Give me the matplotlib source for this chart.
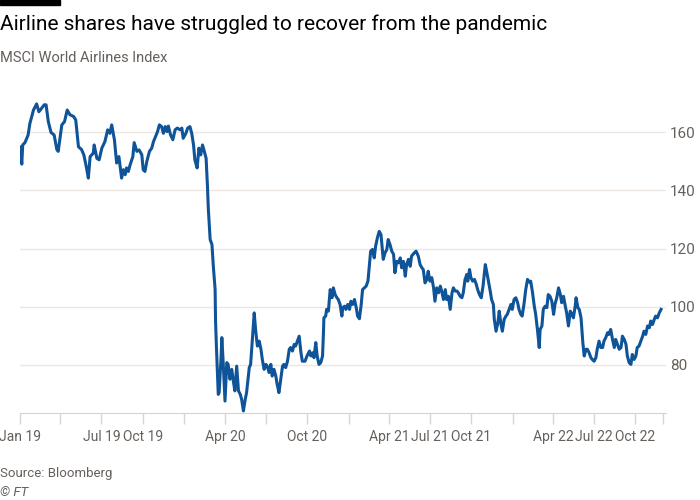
import pandas as pd
import matplotlib
matplotlib.use("Agg")
import matplotlib.pyplot as plt
from matplotlib.patches import Rectangle

plt.rcParams["font.family"] = ["Roboto", "DejaVu Sans"]

# MSCI World Airlines Index (days since 1 Jan 2019)
start_date = "2019-01-01"
day_offsets = [
    0, 4, 6, 11, 18, 22, 30, 37, 42, 48, 54, 58, 63, 69, 76, 82, 85, 93, 99,
    105, 111, 119, 124, 130, 137, 142, 148, 152, 156, 163, 165, 171, 176, 182,
    189, 195, 200, 204, 210, 215, 220, 226, 230, 234, 237, 241, 245, 251, 254,
    260, 265, 271, 274, 278, 282, 288, 293, 297, 300, 306, 310, 315, 319, 323,
    327, 330, 335, 340, 345, 350, 356, 360, 363,
    369, 373, 378, 382, 386, 389, 394, 398, 402, 406, 410, 414, 417, 419, 423,
    427, 430, 434, 435, 437, 441, 443, 447, 449, 452, 456, 460, 463, 467, 471,
    475, 478, 482, 486, 490, 493, 497, 501, 504, 510, 513, 517, 521, 524, 528,
    532, 536, 539, 543, 547, 550, 554, 558, 561, 565, 569, 572, 576, 580, 584,
    587, 591, 595, 599, 602, 606, 610, 613, 617, 621, 625, 628, 634, 639, 644,
    647, 651, 654, 658, 661, 665, 669, 673, 675, 676, 680, 682, 686, 690, 694,
    697, 701, 705, 708, 712, 716, 718, 722, 725, 729,
    733, 736, 740, 744, 748, 751, 755, 759, 762, 766, 770, 774, 777, 780, 784,
    788, 791, 795, 799, 803, 806, 808, 812, 816, 819, 823, 827, 831, 834, 838,
    842, 846, 849, 853, 857, 860, 864, 868, 871, 877, 881, 886, 890, 894, 897,
    901, 905, 908, 912, 916, 920, 923, 927, 931, 935, 938, 942, 946, 949, 953,
    957, 961, 964, 968, 972, 975, 979, 983, 986, 990, 994, 996, 1000, 1003,
    1007, 1011, 1015, 1018, 1022, 1026, 1030, 1033, 1035, 1038, 1042, 1046,
    1049, 1053, 1055, 1059, 1063, 1066, 1070, 1073, 1077, 1081, 1084, 1088,
    1092, 1095, 1099, 1103, 1107, 1110, 1114, 1117, 1121, 1125, 1129, 1133,
    1136, 1140, 1144, 1147, 1151, 1155, 1157, 1161, 1164, 1168, 1172, 1175,
    1179, 1183, 1187, 1190, 1194, 1198, 1202, 1205, 1209, 1213, 1216, 1220,
    1224, 1228, 1231, 1235, 1237, 1241, 1244, 1248, 1252, 1255, 1259, 1262,
    1266, 1270, 1273, 1277, 1281, 1284, 1288, 1292, 1296, 1299, 1303, 1307,
    1310, 1314, 1318, 1322, 1325, 1329, 1333, 1337, 1340, 1344, 1348, 1351,
    1355, 1359, 1362, 1366, 1370, 1373, 1377, 1381, 1385, 1388, 1392, 1396,
    1400, 1403, 1407, 1411, 1414, 1418, 1422, 1426,
]
index_values = [
    154.9, 149.0, 155.6, 156.4, 159.0, 163.0, 167.6, 169.7, 167.0, 168.2, 169.4,
    169.4, 163.6, 159.9, 159.0, 154.0, 153.4, 162.5, 163.6, 167.6, 166.0, 165.4,
    164.2, 155.0, 154.0, 152.2, 147.7, 144.2, 151.6, 152.8, 155.6, 151.0, 150.5,
    154.5, 156.8, 160.8, 159.6, 162.5, 157.4, 149.4, 151.6, 144.2, 147.1, 145.4,
    147.7, 146.5, 148.8, 151.6, 156.4, 153.4, 153.9, 152.2, 147.1, 146.5, 149.9,
    153.4, 154.5, 156.8, 157.9, 160.2, 162.5, 161.9, 159.6, 161.9, 160.2, 162.1,
    159.0, 157.4, 160.8, 161.4, 160.8, 161.4, 157.9,
    159.6, 161.4, 161.9, 159.6, 155.6, 150.5, 147.7, 154.5, 152.2, 155.6, 153.4,
    151.0, 141.4, 133.4, 123.1, 121.4, 114.0, 106.0, 95.0, 86.0, 69.9, 70.5,
    81.9, 89.4, 80.8, 67.6, 80.8, 80.2, 75.1, 78.5, 74.0, 71.1, 79.6, 71.1,
    69.9, 68.2, 64.2, 68.2, 70.5, 79.1, 80.2, 88.8, 97.9, 92.2, 86.5, 88.2,
    85.4, 81.9, 78.5, 80.2, 79.6, 77.4, 80.2, 76.2, 78.5, 76.2, 73.4, 70.5,
    75.1, 79.6, 80.2, 79.1, 81.3, 85.4, 86.0, 84.8, 87.1, 86.5, 88.2, 89.9,
    84.2, 81.3, 81.3, 83.3, 84.8, 83.1, 84.2, 82.5, 87.7, 83.1, 80.2, 80.8,
    83.1, 91.1, 96.2, 96.8, 99.1, 98.5, 105.9, 103.1, 106.5, 104.2, 103.1,
    102.5, 100.8, 96.8, 99.7, 100.2, 99.1, 100.8,
    99.1, 101.9, 100.8, 102.5, 99.7, 96.8, 95.9, 100.8, 105.9, 106.5, 107.1,
    108.8, 113.9, 119.1, 119.7, 116.8, 120.8, 123.7, 125.9, 124.8, 119.7, 116.3,
    118.5, 119.7, 123.1, 121.4, 119.1, 118.0, 111.7, 115.6, 115.1, 116.8, 113.4,
    115.6, 110.5, 114.5, 116.3, 113.9, 117.4, 118.5, 119.1, 117.4, 114.5, 113.4,
    112.8, 108.2, 109.4, 112.2, 108.8, 110.0, 106.5, 101.9, 106.5, 104.8, 107.1,
    105.4, 102.5, 105.9, 102.5, 103.6, 99.1, 104.8, 106.5, 105.4, 105.4, 104.8,
    103.6, 103.1, 104.8, 109.4, 111.1, 108.8, 112.8, 110.0, 108.8, 109.4, 107.7,
    105.9, 104.2, 103.1, 107.1, 111.7, 114.5, 112.2, 108.8, 105.4, 102.5, 100.8,
    95.7, 91.6, 94.5, 98.5, 93.9, 91.6, 95.7, 96.8, 97.4, 99.1, 100.8, 99.1,
    102.5, 103.1, 101.4, 99.1, 97.4, 96.8, 100.8, 105.9, 109.4, 108.5, 108.8,
    105.0, 100.2, 97.5, 92.2, 86.0, 92.2, 93.4, 99.1, 100.2, 99.7, 104.2,
    103.6, 101.9, 97.4, 100.8, 103.1, 106.5, 104.2, 101.4, 103.6, 100.2, 97.9,
    93.4, 98.5, 97.4, 96.2, 100.2, 103.1, 99.7, 99.1, 96.2, 87.7, 83.1, 85.4,
    85.4, 84.2, 82.5, 81.9, 81.3, 82.5, 85.4, 88.2, 86.0, 86.0, 88.2, 89.4,
    91.1, 90.5, 92.2, 88.8, 86.0, 88.8, 87.1, 85.4, 86.0, 89.9, 88.8, 87.1,
    83.1, 80.8, 80.2, 83.6, 81.9, 83.1, 86.0, 86.5, 88.2, 89.9, 91.6, 90.5,
    93.4, 92.8, 95.1, 93.9, 95.7, 96.8, 96.2, 97.9, 99.1,
]

y_ticks = [80, 100, 120, 140, 160]
x_label_dates = ["2019-01-01", "2019-07-01", "2019-10-01", "2020-04-01",
                 "2020-10-01", "2021-04-01", "2021-07-01", "2021-10-01",
                 "2022-04-01", "2022-07-01", "2022-10-01"]
x_labels = ["Jan 19", "Jul 19", "Oct 19", "Apr 20", "Oct 20", "Apr 21",
            "Jul 21", "Oct 21", "Apr 22", "Jul 22", "Oct 22"]

dates = pd.Timestamp(start_date) + pd.to_timedelta(day_offsets, unit="D")

fig = plt.figure(figsize=(7, 5), dpi=100, facecolor="white")
ax = fig.add_axes([20 / 700, (500 - 413.3) / 500, 646 / 700, (413.3 - 85) / 500])

ax.plot(dates, index_values, color="#0f5499", lw=2.2, solid_joinstyle="round")

ax.set_ylim(63.4, 176.2)
x_end = pd.Timestamp("2022-12-02")
ax.set_xlim(pd.Timestamp(start_date), pd.Timestamp("2022-12-08"))

# ticks: every quarter, plus the end of the axis; only some are labelled
tick_dates = list(pd.date_range(start_date, "2022-10-01", freq="QS")) + [x_end]
ax.set_xticks(tick_dates)
lab = dict(zip(pd.to_datetime(x_label_dates), x_labels))
ax.set_xticklabels([lab.get(t, "") for t in tick_dates])
ax.tick_params(axis="x", length=8, width=1, color="#d9d4cf", labelsize=10,
               labelcolor="#66605c", pad=4)

ax.yaxis.tick_right()
ax.set_yticks(y_ticks)
ax.tick_params(axis="y", length=0, labelsize=11, labelcolor="#66605c", pad=3)
ax.grid(axis="y", color="#ede6e0", lw=1)
ax.set_axisbelow(True)

for s in ["top", "left", "right"]:
    ax.spines[s].set_visible(False)
ax.spines["bottom"].set_color("#d9d4cf")

fig.patches.append(Rectangle((0, 1 - 5 / 500), 60 / 700, 5 / 500,
                             transform=fig.transFigure, color="black"))
fig.text(0.0, 1 - 24 / 500, "Airline shares have struggled to recover from the pandemic",
         fontsize=15, color="#000000", va="center", ha="left")
fig.text(0.0, 1 - 58 / 500, "MSCI World Airlines Index",
         fontsize=10.5, color="#66605c", va="center", ha="left")
fig.text(0.0, 1 - 474 / 500, "Source: Bloomberg",
         fontsize=9.5, color="#66605c", va="center", ha="left")
fig.text(0.0, 1 - 492 / 500, "© FT",
         fontsize=9.5, color="#66605c", va="center", ha="left", style="italic")

fig.savefig("out.png", dpi=100, facecolor="white")
